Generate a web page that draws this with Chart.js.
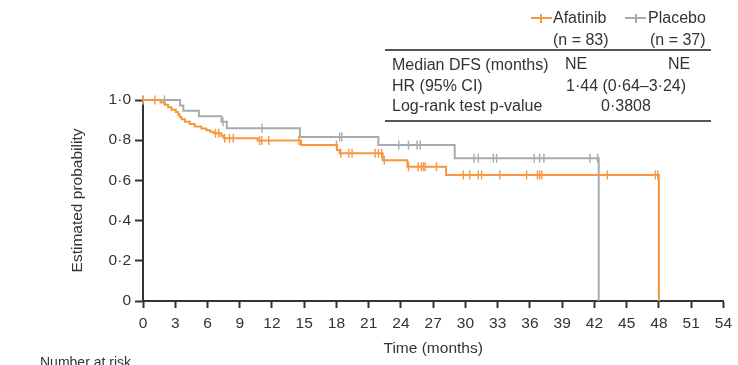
<!DOCTYPE html>
<html><head><meta charset="utf-8">
<script src="https://cdn.jsdelivr.net/npm/chart.js@4/dist/chart.umd.min.js"></script>
<style>
html,body{margin:0;padding:0;background:#fff;}
#wrap{position:relative;width:738px;height:365px;overflow:hidden;font-family:"Liberation Sans",Arial,sans-serif;color:#333;}
#c{position:absolute;left:0;top:0;}
.t{position:absolute;font-size:16px;line-height:18px;white-space:nowrap;}
.hl{position:absolute;height:2px;background:#555;}
.mk{position:absolute;height:2px;}
.mt{position:absolute;width:1.5px;height:9px;}
</style></head>
<body><div id="wrap">
<canvas id="c" width="738" height="365" style="width:738px;height:365px"></canvas>
<div class="mk" style="left:531px;top:17px;width:21px;background:#F7963F"></div>
<div class="mt" style="left:540px;top:13.5px;background:#F7963F"></div>
<div class="t" style="left:553px;top:9px">Afatinib</div>
<div class="mk" style="left:625px;top:17px;width:21px;background:#A9AAAD"></div>
<div class="mt" style="left:635px;top:13.5px;background:#A9AAAD"></div>
<div class="t" style="left:648px;top:9px">Placebo</div>
<div class="t" style="left:553px;top:31px">(n = 83)</div>
<div class="t" style="left:650px;top:31px">(n = 37)</div>
<div class="hl" style="left:385px;top:49px;width:326px"></div>
<div class="t" style="left:392px;top:56px">Median DFS (months)</div>
<div class="t" style="left:565px;top:55px">NE</div>
<div class="t" style="left:668px;top:55px">NE</div>
<div class="t" style="left:392px;top:77px">HR (95% CI)</div>
<div class="t" style="left:566px;top:77px">1·44 (0·64–3·24)</div>
<div class="t" style="left:392px;top:97px">Log-rank test p-value</div>
<div class="t" style="left:601px;top:97px">0·3808</div>
<div class="hl" style="left:385px;top:120px;width:326px"></div>
<div class="t" style="left:40px;top:352.5px;font-size:14px">Number at risk</div>
</div>
<script>
// Kaplan-Meier step data
const afatinibTimes    = [0, 1.64, 2.03, 2.34, 2.65, 3.05, 3.27, 3.42, 3.58, 3.9, 4.35, 4.8, 5.43, 5.9, 6.26, 6.57, 7.28, 7.5, 10.67, 14.7, 18.05, 18.3, 22.3, 24.6, 28.2, 48];
const afatinibSurvival = [1, 0.988, 0.976, 0.964, 0.952, 0.94, 0.928, 0.916, 0.904, 0.892, 0.88, 0.868, 0.858, 0.85, 0.842, 0.834, 0.822, 0.81, 0.798, 0.776, 0.751, 0.735, 0.70, 0.668, 0.627, 0];
const afatinibCensored = [0, 1.1, 6.75, 7.05, 7.6, 8.05, 8.4, 10.85, 11.05, 11.7, 14.5, 18.0, 18.4, 19.15, 19.45, 21.6, 21.9, 22.2, 22.45, 24.7, 25.6, 25.9, 26.1, 26.25, 27.3, 29.8, 30.4, 31.2, 31.5, 33.2, 35.7, 36.7, 36.9, 37.1, 43.2, 47.67, 47.9];

const placeboTimes     = [0, 3.45, 3.75, 5.2, 7.3, 7.8, 14.6, 21.9, 29.0, 42.4];
const placeboSurvival  = [1, 0.973, 0.946, 0.919, 0.892, 0.859, 0.816, 0.776, 0.71, 0];
const placeboCensored  = [0, 2.0, 7.45, 11.07, 18.3, 18.5, 23.8, 24.7, 25.5, 25.8, 30.8, 31.2, 32.6, 32.9, 36.4, 36.9, 37.3, 41.6, 42.3];

const xTickValues = [0,3,6,9,12,15,18,21,24,27,30,33,36,39,42,45,48,51,54];
const yTickValues = [0, 0.2, 0.4, 0.6, 0.8, 1.0];
const yTickLabels = ['0', '0·2', '0·4', '0·6', '0·8', '1·0'];

const ORANGE = '#F7963F';
const GREY = '#A9AAAD';
const INK = '#333333';
const FONT = "'Liberation Sans', Arial, sans-serif";

function steps(times, surv) { return times.map((t, i) => ({x: t, y: surv[i]})); }
function survAt(times, surv, t) {
  let v = surv[0];
  for (let i = 0; i < times.length; i++) { if (times[i] <= t) v = surv[i]; }
  return v;
}
function censor(ct, times, surv) { return ct.map(t => ({x: t, y: survAt(times, surv, t)})); }

const lineBase = {type: 'line', stepped: true, borderWidth: 2, pointRadius: 0, fill: false, clip: false};
const markBase = {type: 'line', showLine: false, pointStyle: 'line', rotation: 90, pointRadius: 4.5, pointHoverRadius: 4.5, pointBorderWidth: 1.4, clip: false};

new Chart(document.getElementById('c'), {
  data: {
    datasets: [
      Object.assign({}, lineBase, {label: 'Afatinib', data: steps(afatinibTimes, afatinibSurvival), borderColor: ORANGE}),
      Object.assign({}, markBase, {label: 'Afatinib censored', data: censor(afatinibCensored, afatinibTimes, afatinibSurvival), borderColor: ORANGE, pointBorderColor: ORANGE}),
      Object.assign({}, lineBase, {label: 'Placebo', data: steps(placeboTimes, placeboSurvival), borderColor: GREY}),
      Object.assign({}, markBase, {label: 'Placebo censored', data: censor(placeboCensored, placeboTimes, placeboSurvival), borderColor: GREY, pointBorderColor: GREY})
    ]
  },
  options: {
    responsive: false,
    animation: false,
    events: [],
    layout: {padding: {left: 0, top: 100, right: 11, bottom: 0}},
    plugins: {legend: {display: false}, tooltip: {enabled: false}},
    scales: {
      x: {
        type: 'linear', min: 0, max: 54,
        afterBuildTicks: s => { s.ticks = xTickValues.map(v => ({value: v})); },
        afterFit: s => { s.height = 64; },
        ticks: {autoSkip: false, maxRotation: 0, color: INK, padding: 6, font: {family: FONT, size: 15.5},
                callback: v => String(v)},
        grid: {drawOnChartArea: false, drawTicks: true, tickLength: 7, tickWidth: 2, tickColor: INK},
        border: {color: INK, width: 2},
        title: {display: true, text: 'Time (months)', color: INK, font: {family: FONT, size: 15.5}, padding: {top: 0, bottom: 7}}
      },
      y: {
        type: 'linear', min: 0, max: 1,
        afterBuildTicks: s => { s.ticks = yTickValues.map(v => ({value: v})); },
        afterFit: s => { s.width = 143; },
        ticks: {color: INK, padding: 4, font: {family: FONT, size: 15.5},
                callback: (v, i) => yTickLabels[i]},
        grid: {drawOnChartArea: false, drawTicks: true, tickLength: 8, tickWidth: 2, tickColor: INK},
        border: {color: INK, width: 2},
        title: {display: true, text: 'Estimated probability', color: INK, font: {family: FONT, size: 15.5}, padding: {top: 68, bottom: 0}}
      }
    }
  }
});
</script>
</body></html>
